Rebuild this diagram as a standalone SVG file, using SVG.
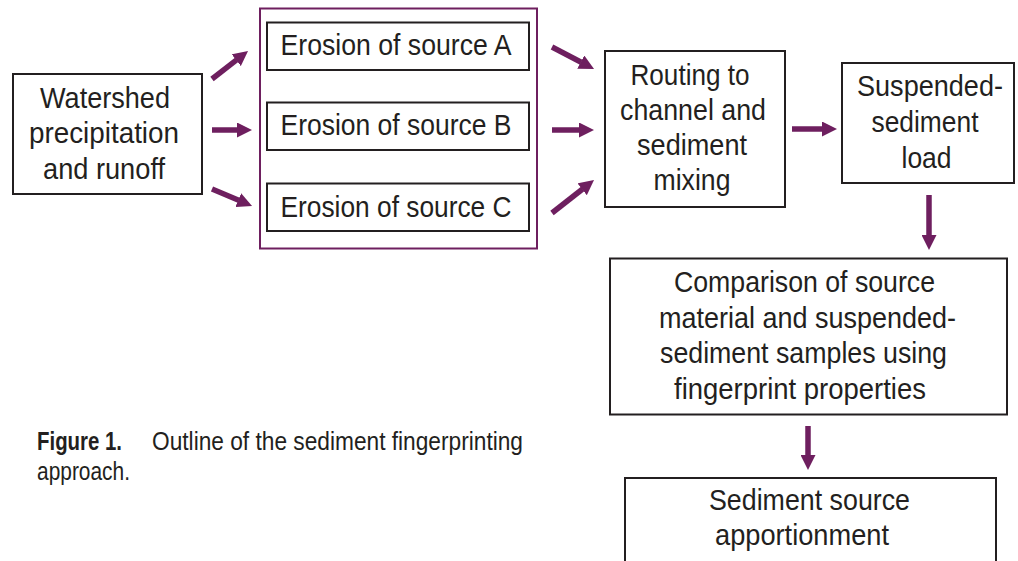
<svg xmlns="http://www.w3.org/2000/svg" width="1018" height="561" viewBox="0 0 1018 561">
  <style>
    .box { fill: #ffffff; stroke: #231f20; stroke-width: 2; }
    .group { fill: none; stroke: #6e1f5f; stroke-width: 2; }
    .lbl { font-family: "Liberation Sans", Arial, sans-serif; font-size: 30px; fill: #231f20; text-anchor: middle; }
    .cap { font-family: "Liberation Sans", Arial, sans-serif; font-size: 25px; fill: #231f20; }
    .capb { font-weight: bold; }
    .arrow { stroke: #6e1f5f; stroke-width: 5.5; fill: none; marker-end: url(#head); }
  </style>
  <defs>
    <marker id="head" markerUnits="userSpaceOnUse" viewBox="0 0 15 15" markerWidth="15" markerHeight="15" refX="0.5" refY="7.5" orient="auto">
      <path d="M0,0 L15,7.5 L0,15 z" fill="#6e1f5f"/>
    </marker>
  </defs>
  <rect width="1018" height="561" fill="#ffffff"/>

  <g id="watershed">
    <rect class="box" x="13" y="74" width="189" height="120"/>
    <text class="lbl" x="105" y="107.5" textLength="130" lengthAdjust="spacingAndGlyphs">Watershed</text>
    <text class="lbl" x="104" y="143" textLength="150" lengthAdjust="spacingAndGlyphs">precipitation</text>
    <text class="lbl" x="104" y="178.5" textLength="122" lengthAdjust="spacingAndGlyphs">and runoff</text>
  </g>

  <g id="sources">
    <rect class="group" x="260" y="8.5" width="277" height="240"/>
  </g>

  <g id="source-a">
    <rect class="box" x="267" y="22.5" width="262" height="47.5"/>
    <text class="lbl" x="396" y="55" textLength="231" lengthAdjust="spacingAndGlyphs">Erosion of source A</text>
  </g>

  <g id="source-b">
    <rect class="box" x="267" y="102.5" width="262" height="47.5"/>
    <text class="lbl" x="396" y="135" textLength="231" lengthAdjust="spacingAndGlyphs">Erosion of source B</text>
  </g>

  <g id="source-c">
    <rect class="box" x="267" y="183.5" width="262" height="47.5"/>
    <text class="lbl" x="396" y="216.5" textLength="231" lengthAdjust="spacingAndGlyphs">Erosion of source C</text>
  </g>

  <g id="routing">
    <rect class="box" x="605" y="51" width="180" height="156"/>
    <text class="lbl" x="690" y="85" textLength="119" lengthAdjust="spacingAndGlyphs">Routing to</text>
    <text class="lbl" x="693" y="120" textLength="146" lengthAdjust="spacingAndGlyphs">channel and</text>
    <text class="lbl" x="692" y="155" textLength="110" lengthAdjust="spacingAndGlyphs">sediment</text>
    <text class="lbl" x="692" y="190" textLength="77" lengthAdjust="spacingAndGlyphs">mixing</text>
  </g>

  <g id="suspended">
    <rect class="box" x="842" y="63" width="172" height="120"/>
    <text class="lbl" x="930" y="96" textLength="146" lengthAdjust="spacingAndGlyphs">Suspended-</text>
    <text class="lbl" x="925" y="131.5" textLength="107" lengthAdjust="spacingAndGlyphs">sediment</text>
    <text class="lbl" x="926.5" y="168" textLength="50" lengthAdjust="spacingAndGlyphs">load</text>
  </g>

  <g id="comparison">
    <rect class="box" x="610" y="258.5" width="397" height="156"/>
    <text class="lbl" x="804.5" y="291.5" textLength="261" lengthAdjust="spacingAndGlyphs">Comparison of source</text>
    <text class="lbl" x="807.5" y="327.5" textLength="297" lengthAdjust="spacingAndGlyphs">material and suspended-</text>
    <text class="lbl" x="803.5" y="363" textLength="287" lengthAdjust="spacingAndGlyphs">sediment samples using</text>
    <text class="lbl" x="800" y="398.5" textLength="252" lengthAdjust="spacingAndGlyphs">fingerprint properties</text>
  </g>

  <g id="apportionment">
    <rect class="box" x="625" y="478" width="371" height="84"/>
    <text class="lbl" x="809.5" y="510" textLength="201" lengthAdjust="spacingAndGlyphs">Sediment source</text>
    <text class="lbl" x="802" y="545" textLength="174" lengthAdjust="spacingAndGlyphs">apportionment</text>
  </g>

  <g id="connectors">
    <line class="arrow" x1="212" y1="79" x2="236.6" y2="59.9"/>
    <line class="arrow" x1="212" y1="130" x2="237.5" y2="130"/>
    <line class="arrow" x1="212" y1="189" x2="238.7" y2="200.3"/>
    <line class="arrow" x1="552" y1="47" x2="581.2" y2="62.3"/>
    <line class="arrow" x1="552" y1="130" x2="579.5" y2="130"/>
    <line class="arrow" x1="552" y1="213" x2="582.6" y2="189"/>
    <line class="arrow" x1="792" y1="129" x2="822.5" y2="129"/>
    <line class="arrow" x1="929" y1="195" x2="929" y2="235.5"/>
    <line class="arrow" x1="808" y1="426" x2="808" y2="455.5"/>
  </g>

  <g id="caption">
    <text class="cap capb" x="37" y="450" textLength="85" lengthAdjust="spacingAndGlyphs">Figure 1.</text>
    <text class="cap" x="152" y="450" textLength="371" lengthAdjust="spacingAndGlyphs">Outline of the sediment fingerprinting</text>
    <text class="cap" x="37" y="480" textLength="93" lengthAdjust="spacingAndGlyphs">approach.</text>
  </g>
</svg>
